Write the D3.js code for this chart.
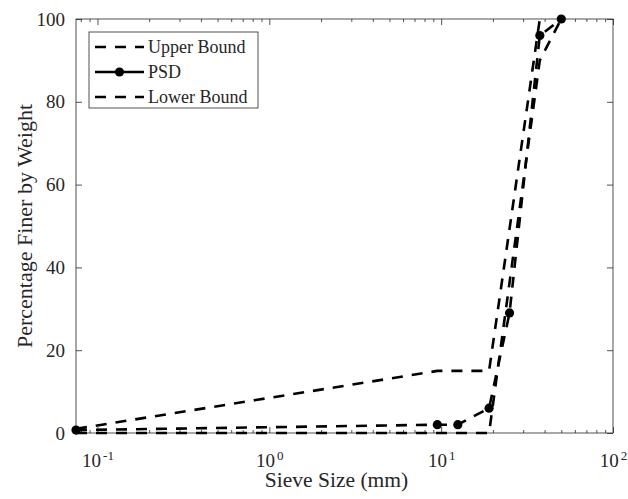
<!DOCTYPE html>
<html>
<head>
<meta charset="utf-8">
<script src="https://cdn.jsdelivr.net/npm/d3@7"></script>
<style>
    body { margin: 0; background: #fff; }
    svg { display: block; }
    text { font-family: "Liberation Serif", "Times New Roman", serif; fill: #262626; }
</style>
</head>
<body>
<div id="chart"></div>
<script>
    var width = 628,
        height = 499,
        margin = { top: 19, right: 15, bottom: 66, left: 76 }; // Plot box inside the window

    var serif = '"Liberation Serif", "Times New Roman", serif';

    // Gradation data (sieve size in mm, percent passing)
    var upperSize = [0.075, 9.5, 19, 37.5];
    var upperPass = [1, 15, 15, 100];
    var psdSize = [0.075, 9.5, 12.5, 19, 25, 37.5, 50];
    var psdPass = [0.7, 2, 2, 6, 29, 96, 100];
    var lowerSize = [0.075, 19, 37.5, 50];
    var lowerPass = [0, 0, 90, 100];

    // Axis ticks
    var xDomain = [0.075, 100];
    var xMajor = [0.1, 1, 10, 100];
    var xExponent = ['-1', '0', '1', '2'];
    var yTicks = [0, 20, 40, 60, 80, 100];
    var legendNames = ['Upper Bound', 'PSD', 'Lower Bound'];

    var dash = '11,9';

    var svg = d3.select('#chart').append('svg')
        .attr('width', width)
        .attr('height', height)
        .attr('font-family', serif);

    var w = width - margin.left - margin.right,
        h = height - margin.top - margin.bottom;

    var g = svg.append('g')
        .attr('transform', 'translate(' + margin.left + ',' + margin.top + ')');

    var x = d3.scaleLog().domain(xDomain).range([0, w]);
    var y = d3.scaleLinear().domain([0, 100]).range([h, 0]);

    /**
     * Minor ticks of the log axis: 2..9 in every decade that is shown
     */
    var xMinor = [];
    for (var e = -2; e < 2; e++) {
        for (var m = 2; m <= 9; m++) {
            var v = m * Math.pow(10, e);
            if (v >= xDomain[0] && v <= xDomain[1]) xMinor.push(v);
        }
    }

    function styleAxis(sel) {
        sel.attr('font-family', serif);
        sel.select('.domain').remove();
        sel.selectAll('line').attr('stroke', '#262626').attr('stroke-width', 0.8);
    }

    // Minor ticks, bottom and top
    g.append('g')
        .attr('transform', 'translate(0,' + h + ')')
        .call(d3.axisBottom(x).tickValues(xMinor).tickSize(-3).tickFormat(''))
        .call(styleAxis);
    g.append('g')
        .call(d3.axisTop(x).tickValues(xMinor).tickSize(-3).tickFormat(''))
        .call(styleAxis);

    // Major ticks with 10^n labels
    var xAxis = g.append('g')
        .attr('transform', 'translate(0,' + h + ')')
        .call(d3.axisBottom(x).tickValues(xMajor).tickSize(-6).tickPadding(21).tickFormat(''))
        .call(styleAxis);
    xAxis.selectAll('.tick text').each(function(d, i) {
        var t = d3.select(this)
            .attr('font-size', 19)
            .attr('font-family', serif);
        t.append('tspan').text('10');
        t.append('tspan')
            .attr('font-size', 13)
            .attr('dx', 2)
            .attr('dy', -7)
            .text(xExponent[i]);
    });
    g.append('g')
        .call(d3.axisTop(x).tickValues(xMajor).tickSize(-6).tickFormat(''))
        .call(styleAxis);

    var yAxis = g.append('g')
        .call(d3.axisLeft(y).tickValues(yTicks).tickSize(-6).tickPadding(11))
        .call(styleAxis);
    yAxis.selectAll('text').attr('font-size', 19).attr('font-family', serif);
    g.append('g')
        .attr('transform', 'translate(' + w + ',0)')
        .call(d3.axisRight(y).tickValues(yTicks).tickSize(-6).tickFormat(''))
        .call(styleAxis);

    // Box
    g.append('rect')
        .attr('width', w)
        .attr('height', h)
        .attr('fill', 'none')
        .attr('stroke', '#262626')
        .attr('stroke-width', 0.8);

    var line = d3.line()
        .x(function(d) { return x(d[0]); })
        .y(function(d) { return y(d[1]); });

    function pairs(xs, ys) {
        return xs.map(function(v, i) { return [v, ys[i]]; });
    }

    var series = [pairs(upperSize, upperPass), pairs(psdSize, psdPass), pairs(lowerSize, lowerPass)];

    g.selectAll('.series')
        .data(series)
        .enter().append('path')
        .attr('class', 'series')
        .attr('d', line)
        .attr('fill', 'none')
        .attr('stroke', '#000')
        .attr('stroke-width', 2.6)
        .attr('stroke-dasharray', dash);

    g.selectAll('.psd-dot')
        .data(series[1])
        .enter().append('circle')
        .attr('class', 'psd-dot')
        .attr('cx', function(d) { return x(d[0]); })
        .attr('cy', function(d) { return y(d[1]); })
        .attr('r', 4.6)
        .attr('fill', '#000');

    // Axis labels
    svg.append('text')
        .attr('x', 336.5)
        .attr('y', 487)
        .attr('text-anchor', 'middle')
        .attr('font-size', 21.5)
        .text('Sieve Size (mm)');

    svg.append('text')
        .attr('transform', 'translate(32,' + (margin.top + h / 2) + ') rotate(-90)')
        .attr('text-anchor', 'middle')
        .attr('font-size', 22)
        .text('Percentage Finer by Weight');

    // Legend
    var legend = svg.append('g').attr('transform', 'translate(89,32)');
    legend.append('rect')
        .attr('width', 169)
        .attr('height', 76)
        .attr('fill', '#fff')
        .attr('stroke', '#262626')
        .attr('stroke-width', 0.8);

    legendNames.forEach(function(name, i) {
        var ly = 15 + i * 25;
        legend.append('line')
            .attr('x1', 6)
            .attr('x2', 55)
            .attr('y1', ly)
            .attr('y2', ly)
            .attr('stroke', '#000')
            .attr('stroke-width', 2.6)
            .attr('stroke-dasharray', i === 1 ? null : dash);
        if (i === 1) {
            legend.append('circle')
                .attr('cx', 30.5)
                .attr('cy', ly)
                .attr('r', 4.6)
                .attr('fill', '#000');
        }
        legend.append('text')
            .attr('x', 59)
            .attr('y', ly + 6)
            .attr('font-size', 18)
            .text(name);
    });
</script>
</body>
</html>
